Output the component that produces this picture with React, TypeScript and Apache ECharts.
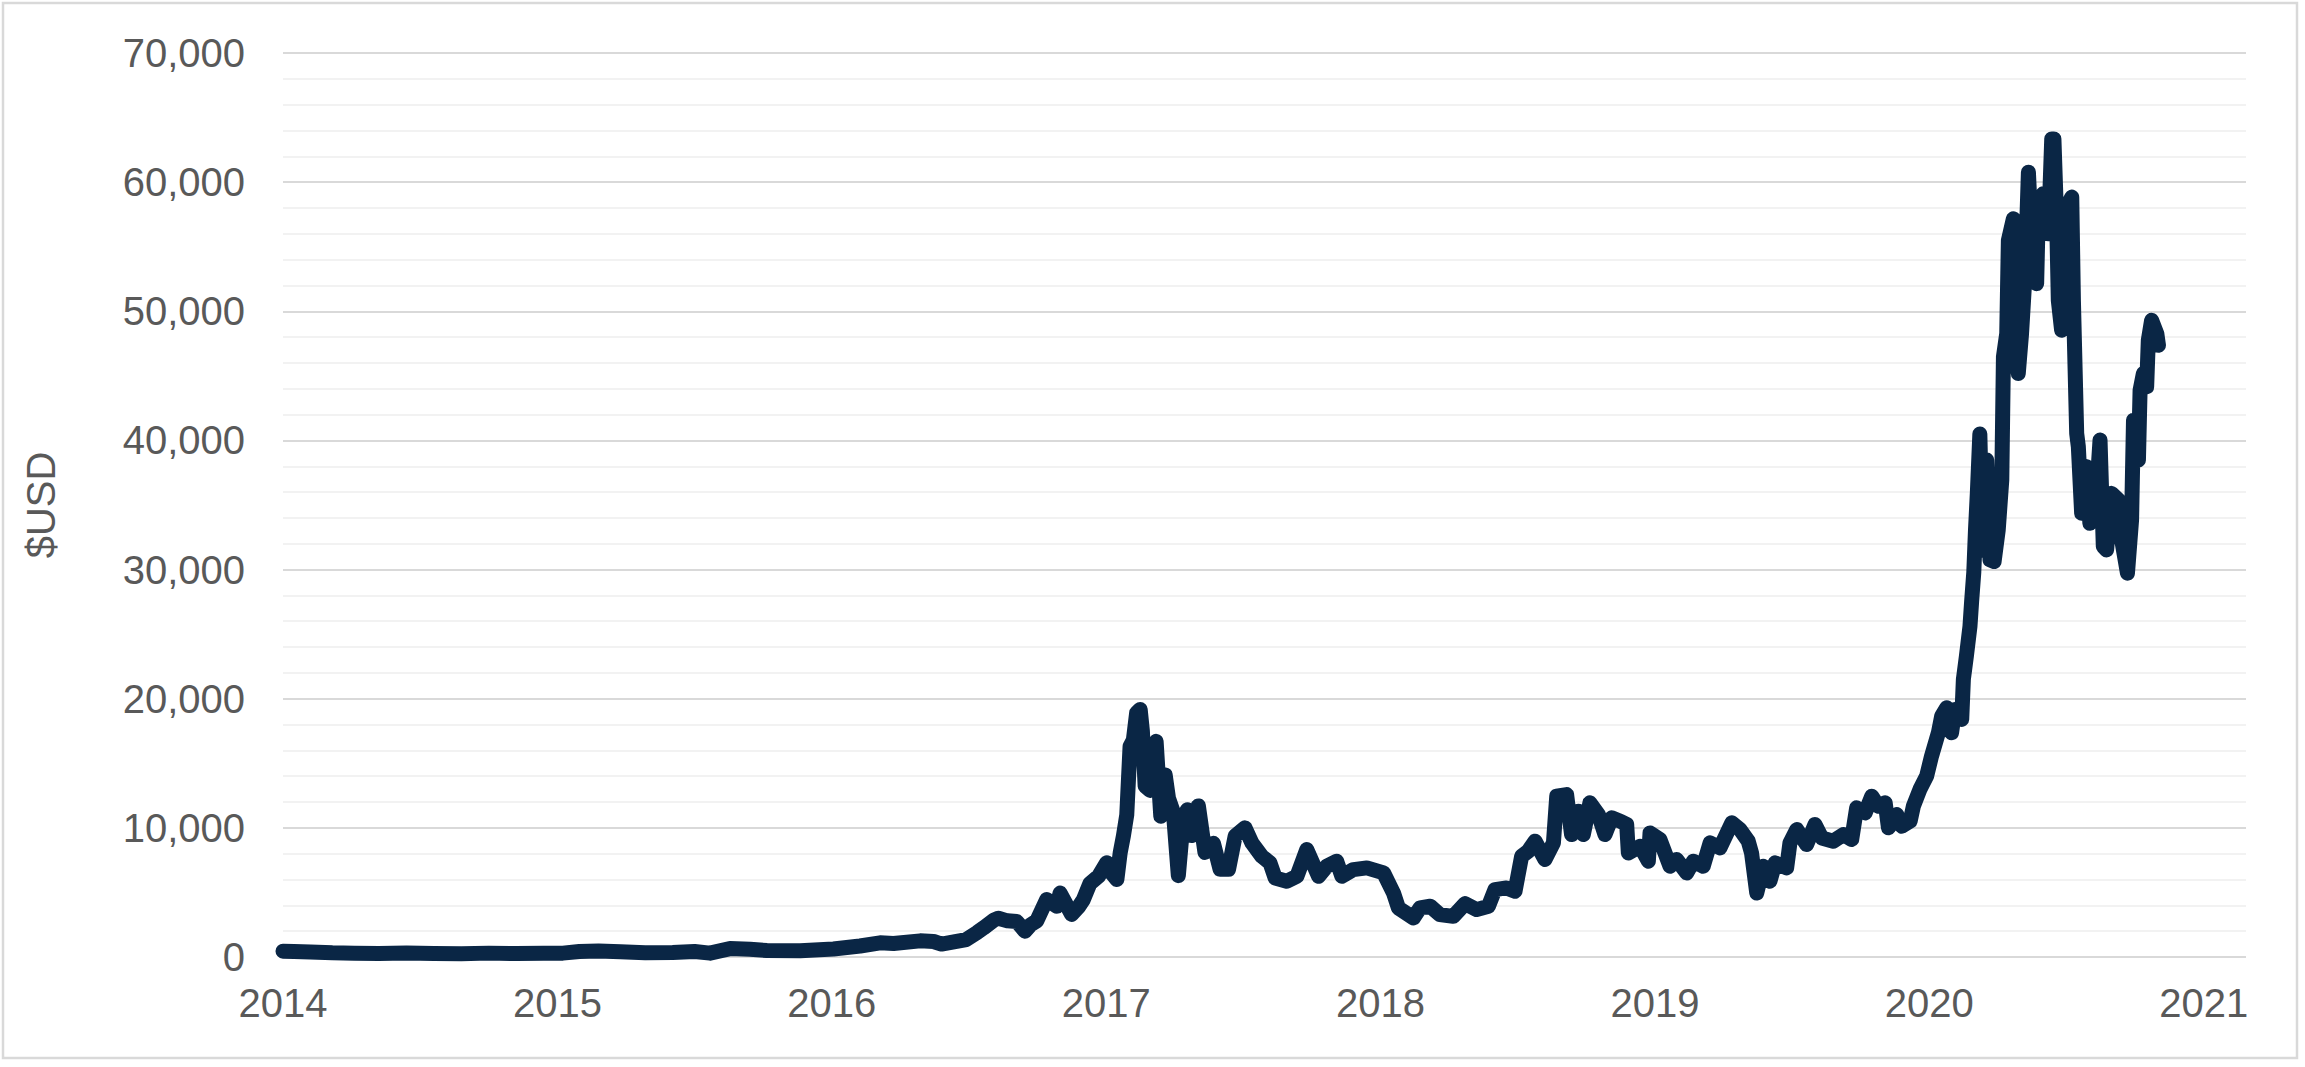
import React, { useEffect, useRef } from 'react';
import * as echarts from 'echarts';

// Position on the time axis (decimal year, as labelled) and price in $USD
const years = [
  2014.0, 2014.04, 2014.1, 2014.18, 2014.26, 2014.35, 2014.45, 2014.55, 2014.65, 2014.75,
  2014.85, 2014.95, 2015.02, 2015.08, 2015.15, 2015.23, 2015.32, 2015.42, 2015.5, 2015.556,
  2015.629, 2015.702, 2015.763, 2015.885, 2016.006, 2016.103, 2016.176, 2016.225, 2016.322, 2016.371,
  2016.4, 2016.44, 2016.49, 2016.53, 2016.553, 2016.59, 2016.607, 2016.64, 2016.674, 2016.704,
  2016.725, 2016.747, 2016.783, 2016.82, 2016.832, 2016.874, 2016.9, 2016.917, 2016.941, 2016.972,
  2017.002, 2017.02, 2017.039, 2017.051, 2017.063, 2017.075, 2017.087, 2017.099, 2017.111, 2017.124,
  2017.132, 2017.142, 2017.16, 2017.182, 2017.199, 2017.215, 2017.227, 2017.245, 2017.263, 2017.282,
  2017.296, 2017.312, 2017.336, 2017.36, 2017.391, 2017.415, 2017.446, 2017.47, 2017.506, 2017.531,
  2017.567, 2017.597, 2017.616, 2017.658, 2017.695, 2017.731, 2017.774, 2017.804, 2017.84, 2017.859,
  2017.901, 2017.95, 2018.011, 2018.047, 2018.065, 2018.12, 2018.144, 2018.181, 2018.216, 2018.265,
  2018.308, 2018.35, 2018.393, 2018.417, 2018.459, 2018.49, 2018.514, 2018.538, 2018.563, 2018.599,
  2018.63, 2018.642, 2018.678, 2018.696, 2018.721, 2018.739, 2018.763, 2018.794, 2018.818, 2018.842,
  2018.873, 2018.897, 2018.903, 2018.946, 2018.976, 2018.982, 2019.018, 2019.055, 2019.079, 2019.116,
  2019.14, 2019.176, 2019.201, 2019.237, 2019.28, 2019.31, 2019.34, 2019.352, 2019.371, 2019.395,
  2019.419, 2019.438, 2019.48, 2019.492, 2019.517, 2019.553, 2019.583, 2019.608, 2019.65, 2019.687,
  2019.717, 2019.735, 2019.766, 2019.79, 2019.814, 2019.839, 2019.851, 2019.881, 2019.899, 2019.93,
  2019.942, 2019.966, 2019.99, 2020.008, 2020.033, 2020.045, 2020.063, 2020.081, 2020.093, 2020.118,
  2020.124, 2020.135, 2020.148, 2020.154, 2020.162, 2020.168, 2020.175, 2020.184, 2020.194, 2020.209,
  2020.221, 2020.236, 2020.251, 2020.264, 2020.27, 2020.282, 2020.288, 2020.306, 2020.318, 2020.324,
  2020.336, 2020.349, 2020.361, 2020.373, 2020.391, 2020.397, 2020.415, 2020.434, 2020.446, 2020.454,
  2020.464, 2020.47, 2020.482, 2020.494, 2020.519, 2020.525, 2020.537, 2020.543, 2020.555, 2020.573,
  2020.585, 2020.604, 2020.622, 2020.634, 2020.646, 2020.664, 2020.689, 2020.701, 2020.722, 2020.737,
  2020.744, 2020.762, 2020.768, 2020.78, 2020.792, 2020.798, 2020.81, 2020.829, 2020.835,
];

const prices = [
  450, 430, 380, 320, 300, 280, 310, 270, 260, 300,
  270, 290, 300, 420, 460, 400, 330, 350, 420, 300,
  650, 600, 500, 480, 620, 850, 1100, 1050, 1250, 1200,
  1000, 1150, 1350, 1900, 2250, 2850, 3000, 2800, 2750, 2000,
  2500, 2800, 4450, 3930, 4950, 3300, 3900, 4450, 5700, 6250,
  7300, 6500, 6000, 8060, 9400, 11000, 16300, 16800, 18900, 19170,
  17500, 13230, 12900, 16700, 10900, 14100, 12300, 11200, 6300, 10900,
  11400, 9400, 11700, 8100, 8800, 6800, 6800, 9360, 10000, 8840,
  7800, 7290, 6120, 5870, 6250, 8320, 6250, 7030, 7420, 6250,
  6770, 6900, 6510, 4960, 3800, 3020, 3800, 3930, 3280, 3150,
  4130, 3670, 3930, 5220, 5350, 5090, 7800, 8190, 8970, 7550,
  8840, 12450, 12580, 9480, 11290, 9480, 11940, 11030, 9480, 10780,
  10520, 10260, 8060, 8580, 7420, 9610, 9100, 7030, 7550, 6510,
  7420, 7030, 8840, 8450, 10390, 9870, 8970, 8060, 4960, 7030,
  5870, 7290, 6900, 8840, 9870, 8710, 10260, 9220, 8970, 9480,
  9100, 11550, 11160, 12450, 11680, 11940, 10000, 11030, 10130, 10520,
  11700, 13000, 14000, 15560, 17370, 18660, 19300, 17370, 19170, 18400,
  21500, 23300, 25600, 27500, 29800, 33000, 36000, 40500, 31500, 38480,
  30750, 30620, 33070, 36930, 46470, 48270, 55490, 57160, 50850, 45180,
  48270, 52910, 60770, 55490, 52140, 57550, 59100, 56000, 63350, 63350,
  57040, 50850, 48530, 57810, 58840, 50850, 40540, 39510, 34360, 37960,
  33580, 34100, 40030, 31780, 31520, 35900, 35390, 32290, 29720, 33840,
  41570, 38480, 43890, 45180, 44150, 47760, 49300, 48270, 47370,
];

const yTicks = [0, 10000, 20000, 30000, 40000, 50000, 60000, 70000];
const xTickYears = [2014, 2015, 2016, 2017, 2018, 2019, 2020, 2021];
const yTitle = '$USD';

const FONT = '"Liberation Sans", Arial, sans-serif';
const TEXT = '#595959';

export default function App() {
  const chartRef = useRef<HTMLDivElement>(null);

  useEffect(() => {
    const chart = echarts.init(chartRef.current!, null, { renderer: 'svg' });

    const options = {
      animation: false,
      backgroundColor: '#ffffff',
      graphic: [
        {
          type: 'rect',
          shape: { x: 3, y: 3, width: 2294, height: 1055 },
          style: { fill: 'none', stroke: '#d9d9d9', lineWidth: 2.5 },
          silent: true,
        },
      ],
      grid: { left: 283, right: 59, top: 53, bottom: 110, containLabel: false },
      xAxis: {
        type: 'value',
        min: xTickYears[0],
        max: 2021.154,
        interval: 1,
        axisLine: { show: false },
        axisTick: { show: false },
        splitLine: { show: false },
        axisLabel: {
          color: TEXT,
          fontFamily: FONT,
          fontSize: 40,
          margin: 26,
          showMaxLabel: false,
          formatter: (v: number) =>
            xTickYears.includes(Math.round(v)) && Math.abs(v - Math.round(v)) < 1e-6 ? String(Math.round(v)) : '',
        },
      },
      yAxis: {
        type: 'value',
        min: yTicks[0],
        max: yTicks[yTicks.length - 1],
        interval: 10000,
        name: yTitle,
        nameLocation: 'middle',
        nameGap: 222,
        nameRotate: 90,
        nameTextStyle: { color: TEXT, fontFamily: FONT, fontSize: 40 },
        axisLine: { show: false },
        axisTick: { show: false },
        axisLabel: {
          color: TEXT,
          fontFamily: FONT,
          fontSize: 40,
          margin: 38,
          formatter: (v: number) => v.toLocaleString('en-US'),
        },
        splitLine: { show: true, lineStyle: { color: '#d9d9d9', width: 2 } },
        minorTick: { show: false, splitNumber: 5 },
        minorSplitLine: { show: true, lineStyle: { color: '#f2f2f2', width: 2 } },
      },
      series: [
        {
          type: 'line',
          data: years.map((y, i) => [y, prices[i]]),
          showSymbol: false,
          symbol: 'none',
          lineStyle: { color: '#0a2645', width: 15, cap: 'round', join: 'round' },
          z: 5,
        },
      ],
    };

    chart.setOption(options);

    return () => {
      chart.dispose();
    };
  }, []);

  return (
    <div style={{ position: 'fixed', left: 0, top: 0, width: 2305, height: 1067, background: '#fff' }}>
      <div ref={chartRef} style={{ width: '2305px', height: '1067px' }} />
    </div>
  );
}
